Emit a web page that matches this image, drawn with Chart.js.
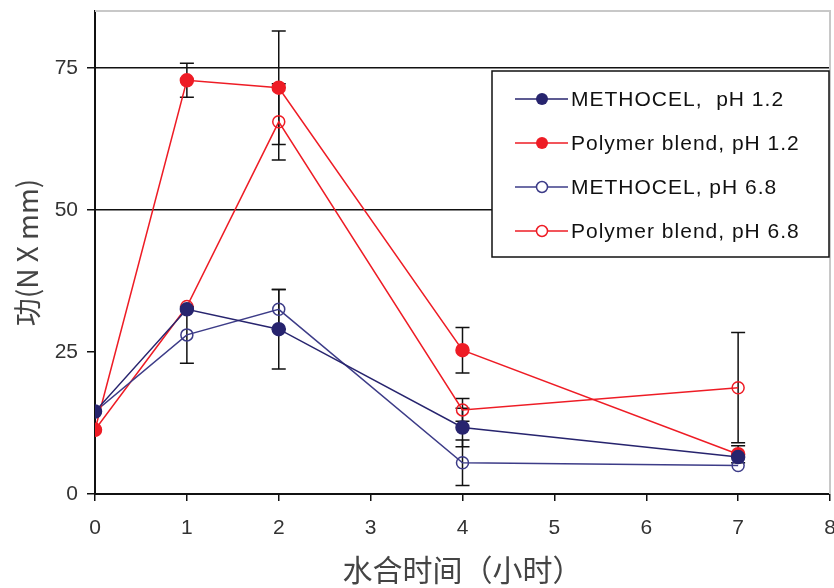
<!DOCTYPE html>
<html>
<head>
<meta charset="utf-8">
<script src="https://cdn.jsdelivr.net/npm/chart.js@4.4.1/dist/chart.umd.min.js"></script>
<style>
html,body{margin:0;padding:0;background:#fff;overflow:hidden}
#wrap{width:838px;height:588px;position:relative}
</style>
</head>
<body>
<div id="wrap"><canvas id="c"></canvas></div>
<script>
const hours=[0,1,2,4,7]
const yTicks=[0,25,50,75]

const labels=["METHOCEL,  pH 1.2","Polymer blend, pH 1.2","METHOCEL, pH 6.8","Polymer blend, pH 6.8"]

const metho12=[14.5,32.5,29,11.7,6.5]
const blend12=[11.3,72.8,71.5,25.3,7]
const metho68=[14.5,28,32.5,5.5,5]
const blend68=[11.3,33,65.5,14.8,18.7]

const metho12Err=[0,0,7,3.4,0]
const blend12Err=[0,3,10,4,1.5]
const metho68Err=[0,5,3.5,4,0]
const blend68Err=[0,0,6.7,2,9.7]

const navy="#27246e"
const navyLight="#3d3c88"
const red="#ee1c25"

function pts(ys){return hours.map((x,i)=>({x:x,y:ys[i]}))}

function ds(label,ys,err,color,filled){
return{
label:label,
data:pts(ys),
err:err,
borderColor:color,
backgroundColor:filled?color:"rgba(255,255,255,0)",
pointBorderColor:color,
pointBackgroundColor:filled?color:"rgba(255,255,255,0)",
pointRadius:filled?6.5:6,
pointBorderWidth:1.5,
borderWidth:1.5,
filled:filled,
showLine:true,
tension:0
}
}

const errorBars={
id:"errorBars",
beforeDatasetsDraw(chart){
const ctx=chart.ctx
const xs=chart.scales.x,ys=chart.scales.y
ctx.save()
ctx.strokeStyle="#111"
ctx.lineWidth=1.5
chart.data.datasets.forEach(d=>{
d.data.forEach((p,i)=>{
const e=d.err[i]
if(!e)return
const px=xs.getPixelForValue(p.x)
const top=ys.getPixelForValue(p.y+e)
const bot=ys.getPixelForValue(p.y-e)
ctx.beginPath()
ctx.moveTo(px,top);ctx.lineTo(px,bot)
ctx.moveTo(px-7,top);ctx.lineTo(px+7,top)
ctx.moveTo(px-7,bot);ctx.lineTo(px+7,bot)
ctx.stroke()
})
})
ctx.restore()
}
}

const frame={
id:"frame",
beforeDatasetsDraw(chart){
const a=chart.chartArea,ctx=chart.ctx
ctx.save()
ctx.strokeStyle="#c8c8c8"
ctx.lineWidth=2
ctx.beginPath()
ctx.moveTo(a.left,a.top);ctx.lineTo(a.right,a.top);ctx.lineTo(a.right,a.bottom)
ctx.stroke()
ctx.restore()
}
}

const boxLegend={
id:"boxLegend",
afterDraw(chart){
const ctx=chart.ctx
const x0=492,y0=71,w=337,h=186
ctx.save()
ctx.fillStyle="#fff"
ctx.fillRect(x0,y0,w,h)
ctx.strokeStyle="#111"
ctx.lineWidth=1.5
ctx.strokeRect(x0,y0,w,h)
ctx.font="21px Arial, 'Liberation Sans', sans-serif"
ctx.letterSpacing="1px"
ctx.textBaseline="middle"
chart.data.datasets.forEach((d,i)=>{
const y=y0+28+i*44
ctx.strokeStyle=d.borderColor
ctx.lineWidth=1.5
ctx.beginPath();ctx.moveTo(x0+23,y);ctx.lineTo(x0+76,y);ctx.stroke()
ctx.beginPath();ctx.arc(x0+50,y,d.filled?6:5.5,0,Math.PI*2)
if(d.filled){ctx.fillStyle=d.borderColor;ctx.fill()}else{ctx.fillStyle="#fff";ctx.fill();ctx.stroke()}
ctx.fillStyle="#111"
ctx.fillText(d.label,x0+79,y+1)
})
ctx.restore()
}
}

new Chart(document.getElementById("c"),{
type:"scatter",
data:{datasets:[
ds(labels[0],metho12,metho12Err,navy,true),
ds(labels[1],blend12,blend12Err,red,true),
ds(labels[2],metho68,metho68Err,navyLight,false),
ds(labels[3],blend68,blend68Err,red,false)
]},
options:{
responsive:true,
maintainAspectRatio:false,
animation:false,
layout:{padding:{left:0,right:1,top:11,bottom:0}},
plugins:{legend:{display:false},tooltip:{enabled:false}},
scales:{
x:{
type:"linear",min:0,max:8,
ticks:{stepSize:1,color:"#333",font:{size:21,family:"Arial"},padding:15},
grid:{display:true,drawOnChartArea:false,tickLength:7,color:"#111",lineWidth:1.5},
border:{color:"#111",width:2},
title:{display:true,text:"水合时间（小时）",color:"#444",font:{size:30,family:"'Noto Sans CJK SC'"},padding:{top:0,bottom:0}},
afterFit(s){s.height=94;s.paddingLeft=0;s.paddingRight=0}
},
y:{
type:"linear",min:0,max:85,
afterBuildTicks(s){s.ticks=yTicks.map(v=>({value:v}))},
ticks:{color:"#333",font:{size:21,family:"Arial"},padding:9},
grid:{tickLength:8,lineWidth:1.5,
color:c=>(c.tick&&(c.tick.value==50||c.tick.value==75))?"#111":"rgba(0,0,0,0)",
tickColor:"#111"},
border:{color:"#111",width:2},
title:{display:true,text:"功(N X mm)",color:"#444",font:{size:28,family:"'Noto Sans CJK SC'"},padding:{top:11,bottom:0}},
afterFit(s){s.width=95;s.paddingTop=0;s.paddingBottom=0}
}
}
},
plugins:[frame,errorBars,boxLegend]
})
</script>
</body>
</html>
